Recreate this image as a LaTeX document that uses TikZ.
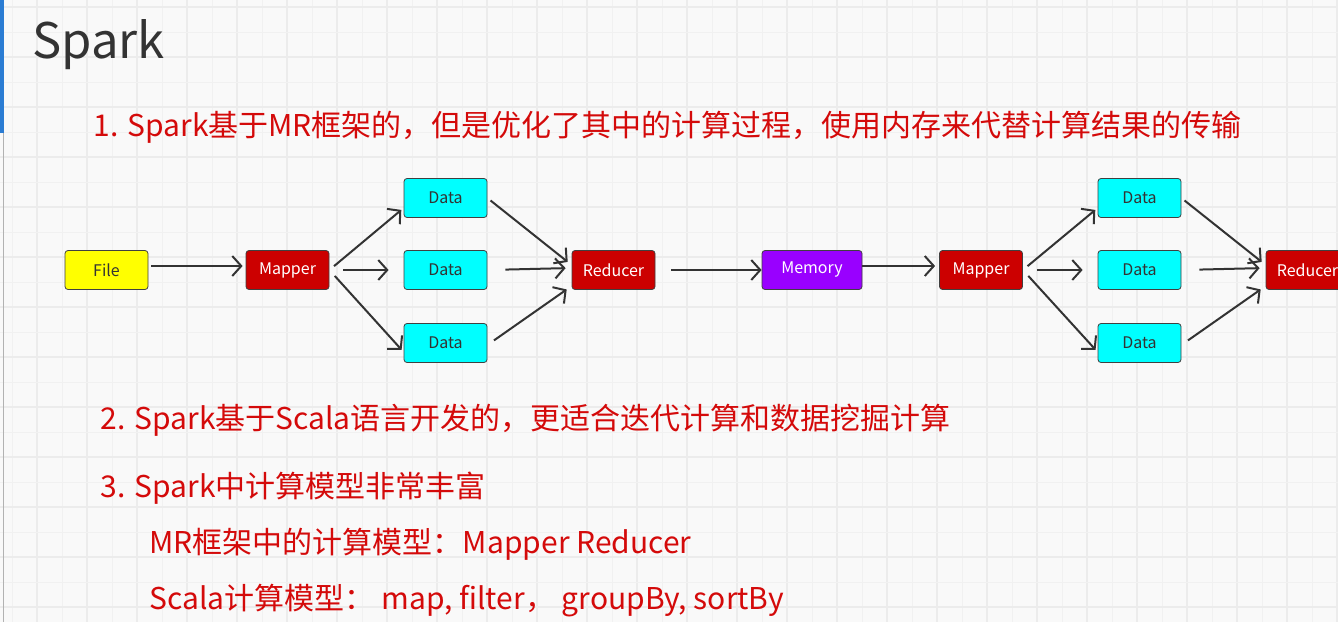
\documentclass[tikz,border=0pt]{standalone}
\usepackage{fontspec}
\setmainfont{Noto Sans CJK SC}
\usetikzlibrary{arrows.meta}
\definecolor{bgpaper}{HTML}{F9F9F9}
\definecolor{gridminor}{HTML}{F1F1F1}
\definecolor{gridmajor}{HTML}{ECECEC}
\definecolor{txtred}{HTML}{D40A0A}
\definecolor{txtgray}{HTML}{333333}
\definecolor{boxred}{HTML}{CC0000}
\definecolor{boxcyan}{HTML}{00FFFF}
\definecolor{boxyellow}{HTML}{FFFF00}
\definecolor{boxpurple}{HTML}{9900FF}
\definecolor{barblue}{HTML}{2B7CD3}

\begin{document}
\begin{tikzpicture}[x=1pt,y=-1pt,
    box/.style={draw=black!75,line width=0.8pt,rounded corners=3pt,minimum width=83pt,minimum height=39pt,inner sep=0pt,font=\fontsize{16}{19}\selectfont},
    arr/.style={draw=txtgray,line width=2pt,-{Straight Barb[length=9pt,width=20pt]}},
    line/.style={anchor=base west,txtred,font=\fontsize{30}{35}\selectfont}]
    \fill[bgpaper] (0,0) rectangle (1338,622);
    \clip (0,0) rectangle (1338,622);
    % grid
    \foreach \x in {12,62,...,1338} \draw[gridminor,line width=1pt] (\x,0) -- (\x,622);
    \foreach \x in {37,87,...,1338} \draw[gridmajor,line width=2pt] (\x,0) -- (\x,622);
    \foreach \y in {32,82,...,622} \draw[gridminor,line width=1pt] (0,\y) -- (1338,\y);
    \foreach \y in {7,57,...,622} \draw[gridmajor,line width=2pt] (0,\y) -- (1338,\y);
    \fill[barblue] (0,0) rectangle (3.5,133);
    \draw[black!30,line width=1pt] (3.5,133) -- (3.5,622);
    % texts
    \node[anchor=base west,txtgray,font=\fontsize{49}{58}\selectfont] (title) at (29,58) {Spark};
    \node[line] (p1) at (90,136) {1. Spark基于MR框架的，但是优化了其中的计算过程，使用内存来代替计算结果的传输};
    \node[line] (p2) at (97,429) {2. Spark基于Scala语言开发的，更适合迭代计算和数据挖掘计算};
    \node[line] (p3) at (97,497) {3. Spark中计算模型非常丰富};
    \node[line] (p4) at (146,553) {MR框架中的计算模型：Mapper Reducer};
    \node[line] (p5) at (146,609) {Scala计算模型：~map, filter，~groupBy, sortBy};
    % boxes
    \node[box,fill=boxyellow,text=txtgray] (file) at (106.5,270) {File};
    \node[box,fill=boxred,text=white] (mapA) at (287.5,270) {Mapper};
    \node[box,fill=boxcyan,text=txtgray] (dA1) at (445.5,198) {Data};
    \node[box,fill=boxcyan,text=txtgray] (dA2) at (445.5,270) {Data};
    \node[box,fill=boxcyan,text=txtgray] (dA3) at (445.5,343) {Data};
    \node[box,fill=boxred,text=white] (redA) at (613.5,270) {Reducer};
    \node[box,fill=boxpurple,text=white,minimum width=100pt] (mem) at (812,270) {Memory};
    \node[box,fill=boxred,text=white] (mapB) at (981,270) {Mapper};
    \node[box,fill=boxcyan,text=txtgray] (dB1) at (1139.5,198) {Data};
    \node[box,fill=boxcyan,text=txtgray] (dB2) at (1139.5,270) {Data};
    \node[box,fill=boxcyan,text=txtgray] (dB3) at (1139.5,343) {Data};
    \node[box,fill=boxred,text=white] (redB) at (1307.5,270) {Reducer};
    % connectors
    \draw[arr,shorten <=3pt,shorten >=3pt] ([yshift=4pt]file.east) -- ([yshift=4pt]mapA.west);
    \draw[arr,shorten <=6pt,shorten >=3pt] (mapA.east) -- ([yshift=-10pt]dA1.west);
    \draw[arr,shorten <=14pt,shorten >=15pt] (mapA.east) -- (dA2.west);
    \draw[arr,shorten <=8pt,shorten >=3pt] (mapA.east) -- ([yshift=-9pt]dA3.west);
    \draw[arr,shorten <=4pt,shorten >=5pt] (dA1.east) -- ([yshift=5pt]redA.west);
    \draw[arr,shorten <=18pt,shorten >=6pt] (dA2.east) -- ([yshift=2pt]redA.west);
    \draw[arr,shorten <=8pt,shorten >=6pt] ([yshift=-2pt]dA3.east) -- ([yshift=-16pt]redA.west);
    \draw[arr,shorten <=16pt,shorten >=0pt] (redA.east) -- (mem.west);
    \draw[arr,shorten <=0pt,shorten >=4pt] ([yshift=4pt]mem.east) -- ([yshift=4pt]mapB.west);
    \draw[arr,shorten <=6pt,shorten >=3pt] (mapB.east) -- ([yshift=-10pt]dB1.west);
    \draw[arr,shorten <=14pt,shorten >=15pt] (mapB.east) -- (dB2.west);
    \draw[arr,shorten <=8pt,shorten >=3pt] (mapB.east) -- ([yshift=-9pt]dB3.west);
    \draw[arr,shorten <=4pt,shorten >=5pt] (dB1.east) -- ([yshift=5pt]redB.west);
    \draw[arr,shorten <=18pt,shorten >=6pt] (dB2.east) -- ([yshift=2pt]redB.west);
    \draw[arr,shorten <=8pt,shorten >=6pt] ([yshift=-2pt]dB3.east) -- ([yshift=-16pt]redB.west);
\end{tikzpicture}
\end{document}
